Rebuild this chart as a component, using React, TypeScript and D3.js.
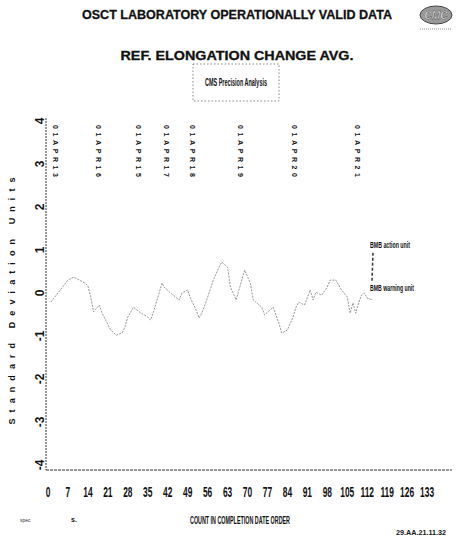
import React from 'react';
import * as d3 from 'd3';

// count in completion date order, and the average in standard deviation units
const counts = [1, 7, 9, 11, 13, 14, 15, 16, 18, 19, 22, 24, 26, 27, 28, 30, 32, 35, 36, 37, 39, 40, 41, 43, 46, 47, 49, 50, 52, 53, 54, 56, 58, 60, 61, 63, 64, 66, 68, 69, 71, 72, 75, 76, 79, 81, 82, 84, 86, 87, 88, 90, 92, 93, 94, 96, 98, 99, 101, 103, 105, 106, 107, 108, 109, 110, 111, 112, 114];
const values = [-0.21, 0.3, 0.37, 0.3, 0.23, 0.16, -0.09, -0.44, -0.28, -0.47, -0.86, -0.98, -0.93, -0.79, -0.56, -0.33, -0.44, -0.56, -0.63, -0.44, 0, 0.23, 0.12, 0, -0.16, 0, 0.07, -0.12, -0.4, -0.58, -0.47, -0.1, 0.3, 0.6, 0.72, 0.6, 0.14, -0.16, 0.3, 0.53, 0.23, -0.16, -0.33, -0.51, -0.33, -0.7, -0.93, -0.86, -0.56, -0.33, -0.21, -0.28, 0.07, -0.16, 0.02, -0.05, 0.14, 0.3, 0.3, 0.07, -0.09, -0.47, -0.23, -0.47, -0.23, -0.05, 0, -0.12, -0.16];

const xTicks = [0, 7, 14, 21, 28, 35, 42, 49, 56, 63, 70, 77, 84, 91, 98, 105, 112, 119, 126, 133];
const yTicks = [4, 3, 2, 1, 0, -1, -2, -3, -4];

const dateCounts = [1, 16, 30, 40, 49, 66, 85, 107];
const dateLabels = ['01APR13', '01APR16', '01APR15', '01APR17', '01APR18', '01APR19', '01APR20', '01APR21'];

const limitValues = [1.05, 0.05];
const limitLabels = ['BMB action unit', 'BMB warning unit'];

const W = 459;
const H = 544;
const ink = '#111';

const App: React.FC = () => {
  const x = d3.scaleLinear().domain([0, 140]).range([48, 447]);
  const y = d3.scaleLinear().domain([-4, 4]).range([465, 121]);

  const line = d3
    .line<number>()
    .x((_, i) => x(counts[i]))
    .y(d => y(d));

  const narrow = '"Liberation Sans Narrow", "Liberation Sans", Arial, sans-serif';

  return (
    <div style={{ position: 'absolute', left: 0, top: 0 }}>
      <svg width={W} height={H} style={{ display: 'block', background: '#fff' }}>
        {/* titles */}
        <text x={237} y={19} textAnchor="middle" fontFamily="Liberation Sans, Arial" fontWeight="bold" fontSize={13}
          textLength={310} lengthAdjust="spacingAndGlyphs" fill={ink} stroke={ink} strokeWidth={0.3}>
          OSCT LABORATORY OPERATIONALLY VALID DATA
        </text>
        <text x={237} y={60} textAnchor="middle" fontFamily="Liberation Sans, Arial" fontWeight="bold" fontSize={12.5}
          textLength={233} lengthAdjust="spacingAndGlyphs" fill={ink} stroke={ink} strokeWidth={0.3}>
          REF. ELONGATION CHANGE AVG.
        </text>

        {/* logo */}
        <ellipse cx={436} cy={15} rx={16} ry={9} fill="#999" stroke="#444" strokeWidth={1} />
        <text x={436} y={19} textAnchor="middle" fontFamily="Liberation Sans, Arial" fontStyle="italic" fontWeight="bold"
          fontSize={10} fill="#fff" stroke="#333" strokeWidth={0.4}>CMC</text>
        <line x1={420} x2={452} y1={29} y2={29} stroke="#888" strokeWidth={1} strokeDasharray="1,1" />

        {/* legend box */}
        <rect x={193} y={64} width={86} height={37} fill="none" stroke="#555" strokeWidth={0.7} strokeDasharray="1.5,2" />
        <text x={236} y={86} textAnchor="middle" fontFamily={narrow} fontWeight="bold" fontSize={10}
          textLength={62} lengthAdjust="spacingAndGlyphs" fill={ink}>CMS Precision Analysis</text>

        {/* axis lines */}
        <line x1={46} x2={46} y1={118} y2={470} stroke="#333" strokeWidth={1} strokeDasharray="2,1" />
        <line x1={46} x2={452} y1={470} y2={470} stroke="#333" strokeWidth={1.2} strokeDasharray="3,1" />

        {/* y tick labels, rotated */}
        {yTicks.map(t => (
          <text key={t} transform={`translate(44,${y(t)}) rotate(-90)`} textAnchor="middle"
            fontFamily="Liberation Sans, Arial" fontWeight="bold" fontSize={12} fill={ink}>
            {t}
          </text>
        ))}

        {/* y title */}
        <text transform={`translate(15,${301}) rotate(-90)`} textAnchor="middle" fontFamily="Liberation Sans, Arial"
          fontWeight="bold" fontSize={9} textLength={247} lengthAdjust="spacing" fill={ink}>
          Standard Deviation Units
        </text>

        {/* x tick labels */}
        {xTicks.map(t => (
          <text key={t} x={x(t)} y={497} textAnchor="middle" fontFamily={narrow} fontWeight="bold" fontSize={12}
            fill={ink} transform={`translate(${x(t)},497) scale(0.7,1.2) translate(${-x(t)},-497)`}>
            {t}
          </text>
        ))}

        {/* date markers */}
        {dateCounts.map((c, i) => (
          <text key={i} transform={`translate(${x(c) + 2},125) rotate(90)`} fontFamily="Liberation Sans, Arial"
            fontWeight="bold" fontSize={7} textLength={52} lengthAdjust="spacing" fill={ink}>
            {dateLabels[i]}
          </text>
        ))}

        {/* series */}
        <path d={line(values) ?? ''} fill="none" stroke="#888" strokeWidth={0.9} strokeDasharray="2,1.2" />

        {/* limit labels */}
        {limitValues.map((v, i) => (
          <text key={i} x={370} y={y(v)} fontFamily={narrow} fontWeight="bold" fontSize={9}
            textLength={i === 0 ? 40 : 44} lengthAdjust="spacingAndGlyphs" fill={ink}>
            {limitLabels[i]}
          </text>
        ))}
        <line x1={373} x2={372} y1={y(limitValues[0]) + 5} y2={y(limitValues[1]) - 10} stroke="#333" strokeWidth={1.5}
          strokeDasharray="3,2" />

        {/* footer */}
        <text x={20} y={522} fontFamily="Liberation Sans, Arial" fontSize={5} fill="#333">spec</text>
        <text x={71} y={522} fontFamily="Liberation Sans, Arial" fontWeight="bold" fontSize={7} fill={ink}>s.</text>
        <text x={240} y={524} textAnchor="middle" fontFamily={narrow} fontWeight="bold" fontSize={11}
          textLength={100} lengthAdjust="spacingAndGlyphs" fill={ink}>COUNT IN COMPLETION DATE ORDER</text>
        <text x={446} y={535} textAnchor="end" fontFamily="Liberation Sans, Arial" fontWeight="bold" fontSize={8}
          textLength={50} lengthAdjust="spacingAndGlyphs" fill={ink}>29.AA.21.11.32</text>
      </svg>
    </div>
  );
};

export default App;
